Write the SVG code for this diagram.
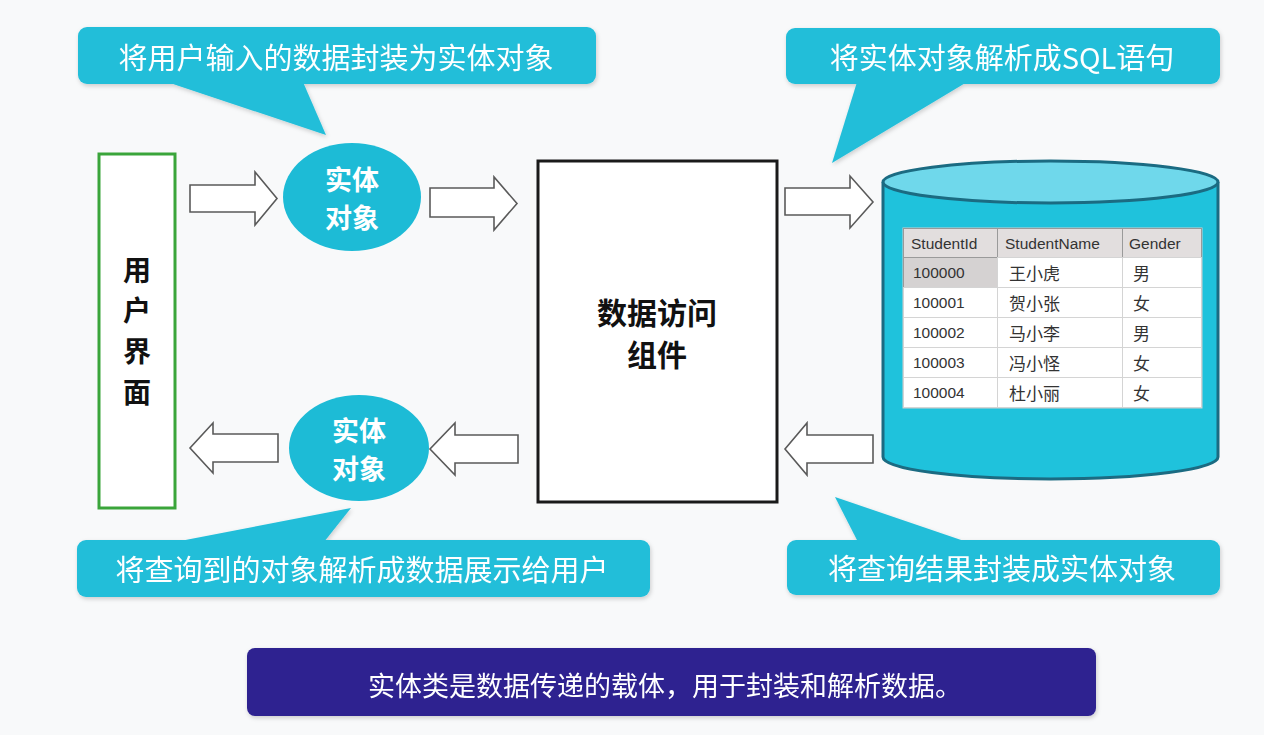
<svg xmlns="http://www.w3.org/2000/svg" width="1264" height="735" viewBox="0 0 1264 735">
<defs>
<style>
.bg{fill:#f8f9fa}
.call{fill:#22bed9}
.ctext{font-family:"Noto Sans CJK SC","Noto Sans",sans-serif;font-size:29px;fill:#ffffff;text-anchor:middle;dominant-baseline:central}
.ent{fill:#1dbbd6}
.etext{font-family:"Noto Sans CJK SC",sans-serif;font-size:27px;font-weight:bold;fill:#ffffff;text-anchor:middle;dominant-baseline:central}
.btext{font-family:"Noto Sans CJK SC",sans-serif;font-weight:bold;fill:#111111;text-anchor:middle;dominant-baseline:central}
.arrow{fill:#ffffff;stroke:#5a5a5a;stroke-width:1.6;stroke-linejoin:miter}
.hdr{fill:#e2dede;stroke:#9a9a9a;stroke-width:1}
.cell{fill:#ffffff;stroke:#d4d4d4;stroke-width:1}
.ttxt{font-family:"Liberation Sans","Noto Sans CJK SC",sans-serif;font-size:15.5px;fill:#333333;dominant-baseline:central}
.ztxt{font-family:"Noto Sans CJK SC",sans-serif;font-size:17px;fill:#333333;dominant-baseline:central}
</style>
<filter id="sh" x="-5%" y="-10%" width="110%" height="130%">
<feDropShadow dx="1" dy="2" stdDeviation="2" flood-color="#000000" flood-opacity="0.18"/>
</filter>
</defs>
<rect class="bg" x="0" y="0" width="1264" height="735"/>

<g id="callout-top-left" filter="url(#sh)">
<rect class="call" x="78" y="27" width="518" height="57" rx="9"/>
<polygon class="call" points="167,82 303,82 326,135"/>
<text class="ctext" x="336" y="56">将用户输入的数据封装为实体对象</text>
</g>
<g id="callout-top-right" filter="url(#sh)">
<rect class="call" x="786" y="28" width="434" height="56" rx="9"/>
<polygon class="call" points="857,82 967,82 832,163"/>
<text class="ctext" x="1002" y="56">将实体对象解析成SQL语句</text>
</g>
<g id="callout-bottom-left" filter="url(#sh)">
<rect class="call" x="77" y="540" width="573" height="57" rx="9"/>
<polygon class="call" points="175,542 324,542 351,508"/>
<text class="ctext" x="362" y="568">将查询到的对象解析成数据展示给用户</text>
</g>
<g id="callout-bottom-right" filter="url(#sh)">
<rect class="call" x="787" y="540" width="433" height="55" rx="9"/>
<polygon class="call" points="858,542 967,542 835,497"/>
<text class="ctext" x="1002" y="567">将查询结果封装成实体对象</text>
</g>

<g id="user-interface">
<rect x="99" y="154" width="76" height="354" fill="#ffffff" stroke="#3aa53a" stroke-width="3"/>
<text class="btext" font-size="28" x="137" y="269">用</text>
<text class="btext" font-size="28" x="137" y="309">户</text>
<text class="btext" font-size="28" x="137" y="350">界</text>
<text class="btext" font-size="28" x="137" y="391">面</text>
</g>

<g id="entity-top">
<ellipse class="ent" cx="352" cy="197" rx="69" ry="54"/>
<text class="etext" x="352" y="178">实体</text>
<text class="etext" x="352" y="216">对象</text>
</g>
<g id="entity-bottom">
<ellipse class="ent" cx="359" cy="448" rx="70" ry="53"/>
<text class="etext" x="359" y="429">实体</text>
<text class="etext" x="359" y="467">对象</text>
</g>

<g id="data-access">
<rect x="538" y="161" width="239" height="341" fill="#ffffff" stroke="#1a1a1a" stroke-width="3"/>
<text class="btext" font-size="30" x="657" y="311">数据访问</text>
<text class="btext" font-size="30" x="657" y="353">组件</text>
</g>

<g id="database">
<path d="M883,182 V457 A167.5,22 0 0 0 1218,457 V182" fill="#1fc2dc" stroke="#1b6b82" stroke-width="3"/>
<ellipse cx="1050.5" cy="182" rx="167.5" ry="21" fill="#6fd8eb" stroke="#1b6b82" stroke-width="3"/>
<g id="table">
<rect x="903" y="228" width="299" height="180" fill="#ffffff" stroke="#cfcfcf"/>
<rect class="hdr" x="903.5" y="228.5" width="94" height="29"/>
<rect class="hdr" x="997.5" y="228.5" width="125" height="29"/>
<rect class="hdr" x="1122.5" y="228.5" width="79" height="29"/>
<rect class="cell" x="903.5" y="257.5" width="94" height="30" style="fill:#d5d2d2;stroke:#9a9a9a"/>
<rect class="cell" x="997.5" y="257.5" width="125" height="30"/>
<rect class="cell" x="1122.5" y="257.5" width="79" height="30"/>
<rect class="cell" x="903.5" y="287.5" width="94" height="30"/>
<rect class="cell" x="997.5" y="287.5" width="125" height="30"/>
<rect class="cell" x="1122.5" y="287.5" width="79" height="30"/>
<rect class="cell" x="903.5" y="317.5" width="94" height="30"/>
<rect class="cell" x="997.5" y="317.5" width="125" height="30"/>
<rect class="cell" x="1122.5" y="317.5" width="79" height="30"/>
<rect class="cell" x="903.5" y="347.5" width="94" height="30"/>
<rect class="cell" x="997.5" y="347.5" width="125" height="30"/>
<rect class="cell" x="1122.5" y="347.5" width="79" height="30"/>
<rect class="cell" x="903.5" y="377.5" width="94" height="30"/>
<rect class="cell" x="997.5" y="377.5" width="125" height="30"/>
<rect class="cell" x="1122.5" y="377.5" width="79" height="30"/>
<text class="ttxt" x="911" y="243">StudentId</text>
<text class="ttxt" x="1005" y="243">StudentName</text>
<text class="ttxt" x="1129" y="243">Gender</text>
<text class="ttxt" x="913" y="272">100000</text>
<text class="ttxt" x="913" y="302">100001</text>
<text class="ttxt" x="913" y="332">100002</text>
<text class="ttxt" x="913" y="362">100003</text>
<text class="ttxt" x="913" y="392">100004</text>
<text class="ztxt" x="1009" y="272">王小虎</text>
<text class="ztxt" x="1009" y="302">贺小张</text>
<text class="ztxt" x="1009" y="332">马小李</text>
<text class="ztxt" x="1009" y="362">冯小怪</text>
<text class="ztxt" x="1009" y="392">杜小丽</text>
<text class="ztxt" x="1133" y="272">男</text>
<text class="ztxt" x="1133" y="302">女</text>
<text class="ztxt" x="1133" y="332">男</text>
<text class="ztxt" x="1133" y="362">女</text>
<text class="ztxt" x="1133" y="392">女</text>
</g>
</g>

<g id="connectors">
<path class="arrow" d="M190,185 H255 V172 L277,198.5 L255,225 V212 H190 Z"/>
<path class="arrow" d="M430,188 H494 V177 L517,203.5 L494,230 V217 H430 Z"/>
<path class="arrow" d="M785,188 H850 V176 L873,202 L850,228 V215 H785 Z"/>
<path class="arrow" d="M278,434 H213 V423 L190,448 L213,473 V462 H278 Z"/>
<path class="arrow" d="M518,435 H455 V423 L430,449 L455,475 V463 H518 Z"/>
<path class="arrow" d="M873,435 H807 V423 L785,449 L807,475 V463 H873 Z"/>
</g>

<g id="summary" filter="url(#sh)">
<rect x="247" y="648" width="849" height="68" rx="8" fill="#2d2190"/>
<text x="665" y="684" font-family="Noto Sans CJK SC, sans-serif" font-size="27" fill="#ffffff" text-anchor="middle" dominant-baseline="central">实体类是数据传递的载体，用于封装和解析数据。</text>
</g>
</svg>
